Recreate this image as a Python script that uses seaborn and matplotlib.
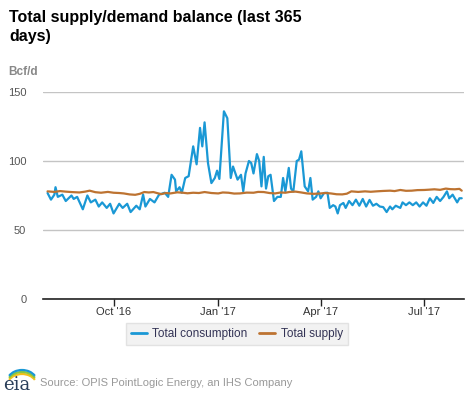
import matplotlib
matplotlib.use("Agg")
import matplotlib.pyplot as plt
from matplotlib.patches import Arc
import seaborn as sns
import pandas as pd

cons_dates = [
    "2016-08-04", "2016-08-07", "2016-08-10", "2016-08-11", "2016-08-13", "2016-08-17",
    "2016-08-20", "2016-08-25", "2016-08-27", "2016-08-30", "2016-09-04", "2016-09-08",
    "2016-09-11", "2016-09-15", "2016-09-18", "2016-09-21", "2016-09-25", "2016-09-28",
    "2016-10-01", "2016-10-06", "2016-10-09", "2016-10-13", "2016-10-16", "2016-10-21",
    "2016-10-24", "2016-10-27", "2016-10-29", "2016-11-02", "2016-11-06", "2016-11-10",
    "2016-11-15", "2016-11-18", "2016-11-21", "2016-11-24", "2016-11-25", "2016-11-28",
    "2016-11-30", "2016-12-03", "2016-12-06", "2016-12-10", "2016-12-13", "2016-12-16",
    "2016-12-18", "2016-12-20", "2016-12-23", "2016-12-26", "2016-12-29", "2016-12-31",
    "2017-01-02", "2017-01-06", "2017-01-09", "2017-01-12", "2017-01-14", "2017-01-18",
    "2017-01-21", "2017-01-23", "2017-01-25", "2017-01-28", "2017-01-30", "2017-02-01",
    "2017-02-04", "2017-02-06", "2017-02-08", "2017-02-10", "2017-02-12", "2017-02-14",
    "2017-02-16", "2017-02-19", "2017-02-22", "2017-02-25", "2017-02-27", "2017-03-01",
    "2017-03-04", "2017-03-06", "2017-03-08", "2017-03-11", "2017-03-13", "2017-03-15",
    "2017-03-18", "2017-03-21", "2017-03-23", "2017-03-25", "2017-03-28", "2017-03-30",
    "2017-04-01", "2017-04-04", "2017-04-07", "2017-04-09", "2017-04-12", "2017-04-14",
    "2017-04-16", "2017-04-18", "2017-04-21", "2017-04-23", "2017-04-26", "2017-04-29",
    "2017-05-02", "2017-05-05", "2017-05-08", "2017-05-11", "2017-05-14", "2017-05-17",
    "2017-05-20", "2017-05-23", "2017-05-26", "2017-05-29", "2017-06-01", "2017-06-03",
    "2017-06-06", "2017-06-10", "2017-06-12", "2017-06-15", "2017-06-18", "2017-06-21",
    "2017-06-24", "2017-06-27", "2017-06-30", "2017-07-03", "2017-07-06", "2017-07-09",
    "2017-07-12", "2017-07-15", "2017-07-18", "2017-07-21", "2017-07-23", "2017-07-26",
    "2017-07-30", "2017-08-01", "2017-08-03",
]
cons_values = [
    76.8, 72, 75.6, 81, 74, 75.6,
    71, 75, 72.5, 74, 65, 75,
    70, 72, 67, 70, 66, 69,
    62, 69, 66, 69, 63, 67.6,
    65, 75.6, 67, 72.5, 70, 75.6,
    77, 74, 90, 86.5, 78, 81,
    77, 87.7, 89, 110.6, 97.6, 124,
    110.6, 128, 98.5, 84, 87.7, 93,
    87, 136, 131, 87.7, 96, 86.5,
    90, 78, 91, 100, 98.5, 91,
    105, 100, 81.6, 103, 80, 89,
    90, 71, 74, 74, 87.7, 78,
    95, 80, 78, 100, 101, 107,
    81.6, 78, 87.7, 72, 74, 78,
    73, 76.8, 77, 66, 68, 67,
    62, 68, 69.6, 66, 71, 68,
    72, 67.6, 72.5, 67, 71.8, 67.6,
    69, 67, 66.6, 63, 67, 65,
    67.6, 66, 70, 68, 70, 68,
    70, 67, 70, 67.6, 73, 69.6,
    74, 71, 74, 78, 73, 75.6,
    70, 73, 73,
]

sup_dates = [
    "2016-08-04", "2016-08-10", "2016-08-15", "2016-08-20", "2016-08-25", "2016-09-01",
    "2016-09-06", "2016-09-10", "2016-09-15", "2016-09-20", "2016-09-26", "2016-10-01",
    "2016-10-06", "2016-10-10", "2016-10-15", "2016-10-20", "2016-10-24", "2016-10-28",
    "2016-11-01", "2016-11-05", "2016-11-09", "2016-11-12", "2016-11-16", "2016-11-20",
    "2016-11-26", "2016-12-01", "2016-12-05", "2016-12-10", "2016-12-15", "2016-12-20",
    "2016-12-26", "2017-01-01", "2017-01-05", "2017-01-10", "2017-01-15", "2017-01-20",
    "2017-01-26", "2017-02-01", "2017-02-05", "2017-02-10", "2017-02-15", "2017-02-20",
    "2017-02-25", "2017-03-01", "2017-03-05", "2017-03-10", "2017-03-15", "2017-03-20",
    "2017-03-26", "2017-04-01", "2017-04-05", "2017-04-10", "2017-04-15", "2017-04-20",
    "2017-04-24", "2017-04-28", "2017-05-04", "2017-05-10", "2017-05-15", "2017-05-20",
    "2017-05-26", "2017-06-01", "2017-06-05", "2017-06-10", "2017-06-15", "2017-06-20",
    "2017-06-25", "2017-07-01", "2017-07-05", "2017-07-10", "2017-07-15", "2017-07-20",
    "2017-07-24", "2017-07-28", "2017-08-01", "2017-08-03",
]
sup_values = [
    78, 77.6, 78.2, 77.8, 77.5, 77.2,
    77.8, 78.5, 77.4, 77, 77.6, 77,
    76.8, 76.5, 75.8, 75.5, 76.2, 77.5,
    77.2, 77.5, 76.6, 76, 76.8, 76.5,
    77.3, 77, 76.6, 77, 76.8, 77.5,
    76.8, 76.5, 77.2, 77, 76.4, 76.5,
    77.1, 77, 77.6, 77.5, 76.8, 76.5,
    77.2, 77, 77.6, 77.8, 77.2, 76.5,
    76.2, 76.5, 76.8, 76.5, 75.9, 75.8,
    76.3, 78, 77.6, 78, 77.7, 78,
    78.3, 78.5, 78.2, 79, 78.4, 78.5,
    78.9, 79, 79.2, 79.5, 79.1, 80,
    79.6, 79.5, 79.8, 78.5,
]

y_ticks = [0, 50, 100, 150]
x_tick_dates = ["2016-10-01", "2017-01-01", "2017-04-01", "2017-07-01"]
x_tick_labels = ["Oct '16", "Jan '17", "Apr '17", "Jul '17"]
series_names = ["Total consumption", "Total supply"]

sns.set_theme(style="white")
plt.rcParams["font.family"] = ["Liberation Sans", "DejaVu Sans"]

df = pd.concat([
    pd.DataFrame({"date": pd.to_datetime(cons_dates), "value": cons_values, "series": series_names[0]}),
    pd.DataFrame({"date": pd.to_datetime(sup_dates), "value": sup_values, "series": series_names[1]}),
])

colors = {"Total consumption": "#1a98d5", "Total supply": "#bd7331"}

fig = plt.figure(figsize=(4.77, 3.93), dpi=100)
ax = fig.add_axes([43 / 477, 1 - 299 / 393, 421 / 477, 207 / 393])

sns.lineplot(data=df, x="date", y="value", hue="series", palette=colors,
             linewidth=1.6, ax=ax, legend=False, hue_order=series_names)

ax.set_ylim(0, 150)
ax.set_xlim(pd.Timestamp("2016-07-31"), pd.Timestamp("2017-08-05"))
ax.set_yticks(y_ticks)
ax.set_xticks(pd.to_datetime(x_tick_dates))
ax.set_xticklabels(x_tick_labels)
ax.yaxis.grid(True, color="#c4c4c4", linewidth=1.0)
ax.set_axisbelow(True)
for s in ["top", "right", "left"]:
    ax.spines[s].set_visible(False)
ax.spines["bottom"].set_color("#222222")
ax.spines["bottom"].set_linewidth(1.2)
ax.tick_params(axis="x", which="major", bottom=True, length=5, width=1, color="#222222",
               labelsize=8, labelcolor="#333333", pad=1)
ax.tick_params(axis="y", left=False, labelsize=8, labelcolor="#555555", pad=6)
ax.set_xlabel("")
ax.set_ylabel("")

fig.text(9 / 477, 1 - 27 / 393, "Total supply/demand balance (last 365\ndays)",
         fontsize=11.5, fontweight="bold", color="#000000", va="center", ha="left",
         linespacing=1.35)
fig.text(8 / 477, 1 - 72 / 393, "Bcf/d", fontsize=8.5, fontweight="bold", color="#888888",
         va="center", ha="left")

handles = [plt.Line2D([0], [0], color=colors[n], linewidth=2) for n in series_names]
leg = fig.legend(handles, series_names, loc="center", bbox_to_anchor=(237 / 477, 1 - 334 / 393),
                 ncol=2, frameon=True, fontsize=8.5, handlelength=1.3, handletextpad=0.5,
                 columnspacing=1.0, borderpad=0.45, fancybox=False)
leg.get_frame().set_facecolor("#efefef")
leg.get_frame().set_edgecolor("#dddddd")
for t in leg.get_texts():
    t.set_color("#333355")

fig.text(40 / 477, 1 - 383 / 393, "Source: OPIS PointLogic Energy, an IHS Company",
         fontsize=8, color="#999999", va="center", ha="left")

# eia logo
fig.text(3 / 477, 1 - 385 / 393, "eia", fontsize=13, family="DejaVu Serif", color="#2a3f5a",
         va="center", ha="left")
for c, off in [("#f4c019", 0.0), ("#8cc63f", 2.0), ("#1a98d5", 4.0)]:
    a = Arc((22 / 477, (393 - 386 + off) / 393), 30 / 477, 24 / 393, theta1=30, theta2=150,
            transform=fig.transFigure, color=c, linewidth=1.6)
    fig.add_artist(a)

fig.savefig("out.png", dpi=100, facecolor="white")
